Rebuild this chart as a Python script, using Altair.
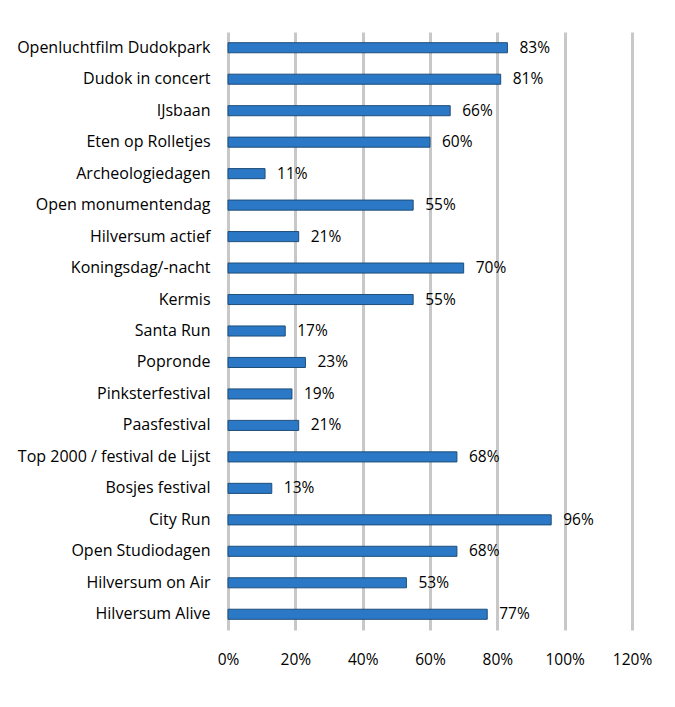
import altair as alt
import pandas as pd

categories = ["Openluchtfilm Dudokpark", "Dudok in concert", "IJsbaan", "Eten op Rolletjes",
              "Archeologiedagen", "Open monumentendag", "Hilversum actief", "Koningsdag/-nacht",
              "Kermis", "Santa Run", "Popronde", "Pinksterfestival", "Paasfestival",
              "Top 2000 / festival de Lijst", "Bosjes festival", "City Run", "Open Studiodagen",
              "Hilversum on Air", "Hilversum Alive"]
values = [83, 81, 66, 60, 11, 55, 21, 70, 55, 17, 23, 19, 21, 68, 13, 96, 68, 53, 77]

df = pd.DataFrame({"cat": categories, "val": [v / 100 for v in values],
                   "lbl": [f"{v}%" for v in values]})

FONT = "Open Sans"

y = alt.Y("cat:N", sort=categories, title=None,
          scale=alt.Scale(paddingInner=0.68, paddingOuter=0.34))
x = alt.X("val:Q", title=None,
          scale=alt.Scale(domain=[0, 1.2], nice=False),
          axis=alt.Axis(format=".0%", values=[0, 0.2, 0.4, 0.6, 0.8, 1.0, 1.2]))

bars = alt.Chart(df).mark_bar(color="#2A78C6", stroke="#1F4E79", strokeWidth=1).encode(y=y, x=x)
text = alt.Chart(df).mark_text(align="left", dx=12, fontSize=15.5, font=FONT, color="#000000").encode(
    y=alt.Y("cat:N", sort=categories), x=alt.X("val:Q"), text="lbl:N")

chart = (
    (bars + text)
    .properties(width=404, height=598,
                padding={"left": 8, "top": 24, "right": 10, "bottom": 10})
    .configure_view(stroke=None)
    .configure_axisY(labelFontSize=16, labelFont=FONT, labelColor="#000000", labelLimit=400,
                     ticks=False, domain=False, labelPadding=18, grid=False)
    .configure_axisX(labelFontSize=15.5, labelFont=FONT, labelColor="#000000",
                     ticks=False, domain=False, labelPadding=22, labelFlush=False,
                     grid=True, gridColor="#C8C8C8", gridWidth=3)
)
chart.save("out.html", embed_options={"renderer": "svg", "actions": False})
